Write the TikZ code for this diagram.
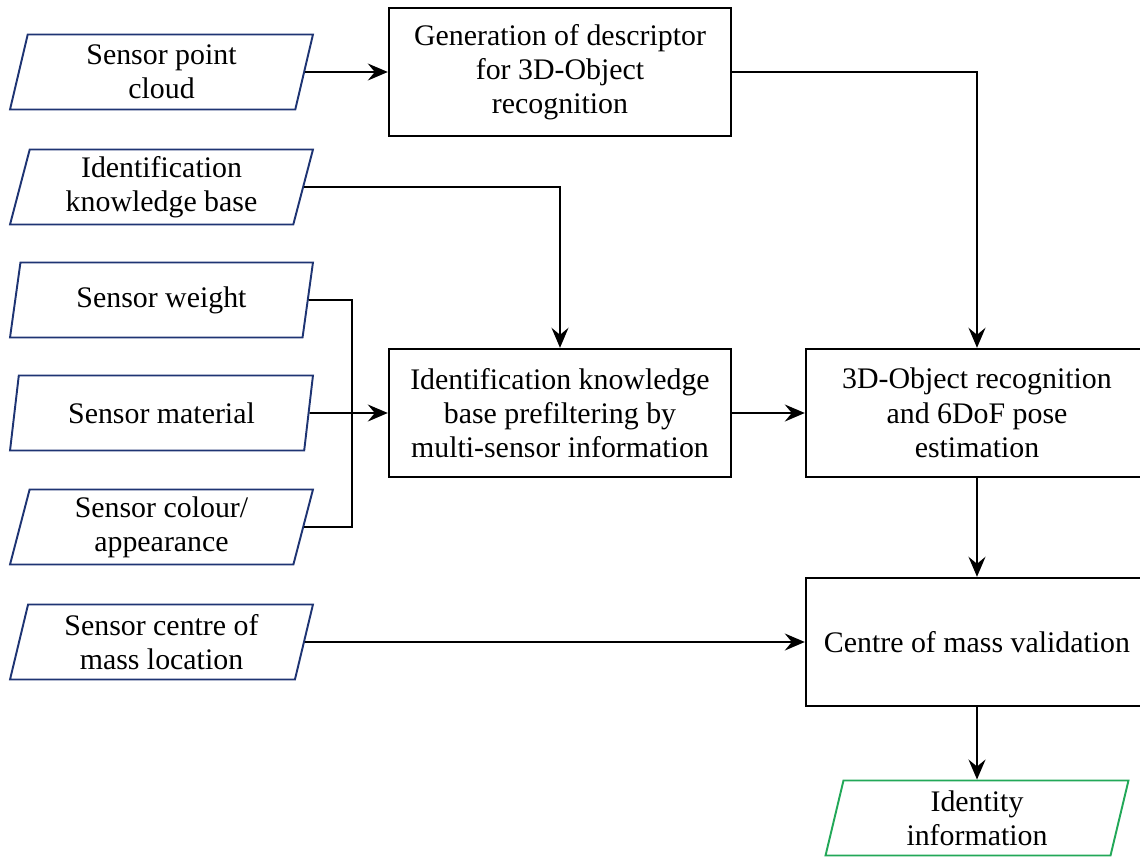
\documentclass[tikz,border=0pt]{standalone}
\usepackage{fontspec}
\setmainfont{Liberation Serif}
\usepackage{tikz}
\usetikzlibrary{arrows.meta,shapes.geometric}
\definecolor{inputblue}{RGB}{30,52,115}
\definecolor{outputgreen}{RGB}{34,168,88}

\tikzset{
	procbox/.style={draw, line width=1.4pt, minimum width=6.84cm, minimum height=2.56cm, align=center},
	inbox/.style={draw=inputblue, line width=1.1pt, trapezium, trapezium left angle=75, trapezium right angle=105,
		trapezium stretches body, minimum width=6.06cm, minimum height=1.5cm, inner xsep=0pt, align=center},
	outbox/.style={inbox, draw=outputgreen},
	flow/.style={line width=1.1pt, -{Stealth[length=0.4cm, width=0.34cm, inset=0.14cm]}}
}

\begin{document}
\begin{tikzpicture}[x=0.02cm, y=-0.02cm, font=\fontsize{17}{19.5}\selectfont]
			%%%%% START %%%%%
			
			\useasboundingbox (0, 0) rectangle (1140, 856);
			
			\node[inbox] (cloud) at (161.5, 72) {Sensor point\\cloud};
			\node[inbox] (idkb) at (161.5, 187) {Identification\\knowledge base};
			\node[inbox] (weight) at (161.5, 300) {Sensor weight};
			\node[inbox] (material) at (161.5, 413) {Sensor material};
			\node[inbox] (colour) at (161.5, 527) {Sensor colour/\\appearance};
			\node[inbox] (mass) at (161.5, 642) {Sensor centre of\\mass location};
			
			\node[procbox] (descr) at (560, 72) {Generation of descriptor\\for 3D-Object\\recognition};
			\node[procbox] (prefilter) at (560, 413) {Identification knowledge\\base prefiltering by\\multi-sensor information};
			\node[procbox] (recog) at (977, 413) {3D-Object recognition\\and 6DoF pose\\estimation};
			\node[procbox] (valid) at (977, 642) {Centre of mass validation};
			
			\node[outbox] (ident) at (977, 818) {Identity\\information};
			
			\draw[flow] (cloud.east) -- (descr.west);
			\draw[flow] (descr.east) -| (recog.north);
			\draw[flow] (idkb.east) -| (prefilter.north);
			
			\coordinate (merge) at (352, 300);
			\draw[line width=1.1pt] (weight.east) -- (merge) |- (colour.east);
			\draw[flow] (material.east) -- (prefilter.west);
			
			\draw[flow] (prefilter.east) -- (recog.west);
			\draw[flow] (recog.south) -- (valid.north);
			\draw[flow] (mass.east) -- (valid.west);
			\draw[flow] (valid.south) -- (ident.north);
			
			%%%%% END %%%%%
\end{tikzpicture}
\end{document}
